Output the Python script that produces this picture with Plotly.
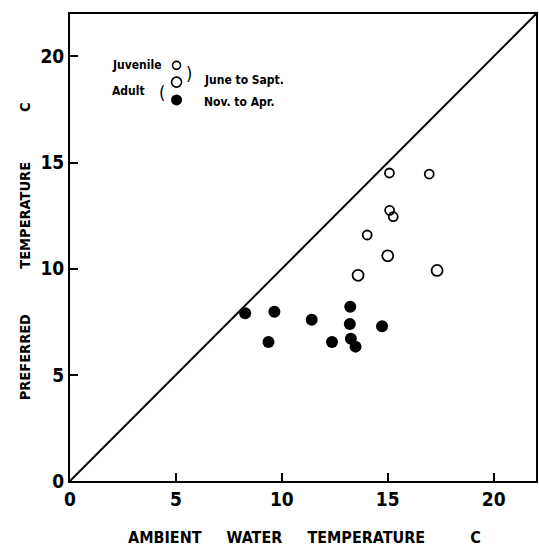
import plotly.graph_objects as go

# Open circles (June to Sept.)
juv_summer_x = [15.08, 16.96, 15.09, 15.26, 14.03]
juv_summer_y = [14.51, 14.46, 12.75, 12.45, 11.59]
adult_summer_x = [15.0, 13.6, 17.33]
adult_summer_y = [10.61, 9.69, 9.92]
# Filled circles (Nov. to Apr.)
winter_x = [8.27, 9.65, 11.41, 13.23, 13.21, 14.73, 9.37, 12.37, 13.26, 13.48]
winter_y = [7.90, 7.97, 7.60, 8.21, 7.40, 7.29, 6.55, 6.55, 6.70, 6.33]
# Line of equality
diag_x = [0, 22]
diag_y = [0, 22]
# Legend key markers
key_x = [5.03, 5.03, 5.03]
key_y = [19.58, 18.79, 17.95]

tick_vals = [0, 5, 10, 15, 20]
tick_text = ["0", "5", "10", "15", "20"]

FONT = "DejaVu Sans Condensed, Liberation Sans Narrow, sans-serif"

fig = go.Figure()
fig.add_trace(go.Scatter(x=diag_x, y=diag_y, mode="lines",
                         line=dict(color="black", width=2), hoverinfo="skip"))
fig.add_trace(go.Scatter(x=juv_summer_x, y=juv_summer_y, mode="markers",
                         marker=dict(symbol="circle-open", size=9, color="black",
                                     line=dict(width=1.8, color="black"))))
fig.add_trace(go.Scatter(x=adult_summer_x, y=adult_summer_y, mode="markers",
                         marker=dict(symbol="circle-open", size=11, color="black",
                                     line=dict(width=1.8, color="black"))))
fig.add_trace(go.Scatter(x=winter_x, y=winter_y, mode="markers",
                         marker=dict(symbol="circle", size=12, color="black")))
# legend key
fig.add_trace(go.Scatter(x=key_x[:1], y=key_y[:1], mode="markers",
                         marker=dict(symbol="circle-open", size=8, color="black",
                                     line=dict(width=1.6, color="black"))))
fig.add_trace(go.Scatter(x=key_x[1:2], y=key_y[1:2], mode="markers",
                         marker=dict(symbol="circle-open", size=10, color="black",
                                     line=dict(width=1.6, color="black"))))
fig.add_trace(go.Scatter(x=key_x[2:], y=key_y[2:], mode="markers",
                         marker=dict(symbol="circle", size=11, color="black")))

ann = []
def txt(x, y, s, size, anchor="left"):
    ann.append(dict(x=x, y=y, xref="x", yref="y", text=s, showarrow=False,
                    xanchor=anchor, yanchor="middle",
                    font=dict(family=FONT, size=size, color="black")))

txt(1.88, 19.6, "<b>Juvenile</b>", 12)
txt(1.88, 18.35, "<b>Adult</b>", 12)
txt(4.33, 18.3, "(", 18, "center")
txt(5.6, 19.2, ")", 18, "center")
txt(6.21, 18.89, "<b>June to Sapt.</b>", 12)
txt(6.21, 17.85, "<b>Nov. to Apr.</b>", 12)

def sp(n):
    return "\u00a0" * n

ann.append(dict(x=0.504, y=-0.12, xref="paper", yref="paper", showarrow=False,
                text="<b>AMBIENT" + sp(5) + "WATER" + sp(5) + "TEMPERATURE" + sp(9) + "C</b>",
                xanchor="center", yanchor="middle",
                font=dict(family=FONT, size=16, color="black")))
ann.append(dict(x=-0.096, y=0.4925, xref="paper", yref="paper", showarrow=False,
                text="<b>PREFERRED" + sp(10) + "TEMPERATURE" + sp(11) + "C</b>",
                xanchor="center", yanchor="middle", textangle=-90,
                font=dict(family=FONT, size=14.5, color="black")))

axis_common = dict(range=[0, 22], tickvals=tick_vals, ticktext=tick_text,
                   ticks="inside", ticklen=8, tickwidth=2, tickcolor="black",
                   showline=True, linecolor="black", linewidth=2, mirror=True,
                   showgrid=False, zeroline=False,
                   tickfont=dict(family=FONT, size=19, color="black", weight="bold"))

fig.update_layout(
    width=539, height=547,
    margin=dict(l=70, r=1, t=14, b=66),
    paper_bgcolor="white", plot_bgcolor="white",
    showlegend=False,
    xaxis=dict(**axis_common),
    yaxis=dict(**axis_common),
    annotations=ann,
)
fig.write_html("out.html")
